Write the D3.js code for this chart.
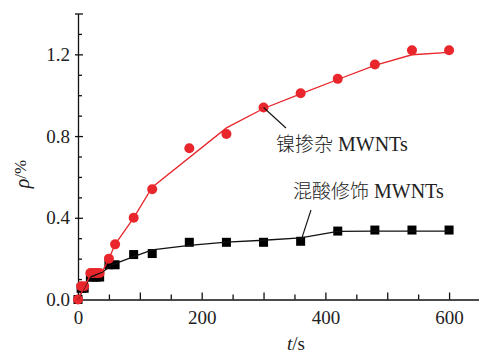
<!DOCTYPE html>
<html>
<head>
<meta charset="utf-8">
<script src="https://cdn.jsdelivr.net/npm/d3@7"></script>
<style>
  body { margin: 0; background: #fff; }
  svg { display: block; }
  text { font-family: "Liberation Serif", "Times New Roman", serif; fill: #222; }
</style>
</head>
<body>
<svg id="chart" width="479" height="354"></svg>
<script>
// nickel doped MWNTs (red circles)
const niT = [0, 5, 10, 20, 25, 30, 35, 50, 60, 90, 120, 180, 240, 300, 360, 420, 480, 540, 600]
const niRho = [0, 0.065, 0.065, 0.13, 0.13, 0.13, 0.13, 0.2, 0.27, 0.4, 0.54, 0.74, 0.81, 0.94, 1.01, 1.08, 1.15, 1.22, 1.22]
// fitted curve for the red series
const niFitT = [0, 20, 40, 50, 60, 90, 120, 240, 300, 360, 420, 480, 540, 600]
const niFitRho = [0, 0.12, 0.14, 0.2, 0.27, 0.4, 0.55, 0.84, 0.935, 1.007, 1.077, 1.146, 1.198, 1.21]

// mixed acid modified MWNTs (black squares)
const acidT = [0, 5, 10, 20, 25, 30, 35, 50, 60, 90, 120, 180, 240, 300, 360, 420, 480, 540, 600]
const acidRho = [0, 0.055, 0.055, 0.11, 0.11, 0.11, 0.11, 0.17, 0.17, 0.22, 0.225, 0.28, 0.28, 0.28, 0.285, 0.335, 0.34, 0.34, 0.34]
const acidFitT = [0, 20, 40, 55, 90, 120, 180, 240, 300, 360, 420, 480, 600]
const acidFitRho = [0, 0.11, 0.135, 0.17, 0.21, 0.243, 0.265, 0.281, 0.29, 0.302, 0.333, 0.335, 0.335]

const xMajor = [0, 100, 200, 300, 400, 500, 600]
const xMinor = [50, 150, 250, 350, 450, 550]
const xLabels = [0, 200, 400, 600]
const yTicks = [0, 0.1, 0.2, 0.3, 0.4, 0.5, 0.6, 0.7, 0.8, 0.9, 1.0, 1.1, 1.2, 1.3, 1.4]
const yLabels = [0, 0.4, 0.8, 1.2]

const red = "#e8262c"
const svg = d3.select("#chart")

const x = d3.scaleLinear().domain([0, 650]).range([78, 480])
const y = d3.scaleLinear().domain([0, 1.4]).range([299.5, 13.5])

// x axis: major + minor ticks pointing up
const gx = svg.append("g").attr("transform", "translate(0," + y(0) + ")")
gx.call(d3.axisBottom(x).tickValues(xMajor).tickSize(-7).tickSizeOuter(0).tickPadding(11)
  .tickFormat(d => xLabels.includes(d) ? d : ""))
gx.append("g").call(d3.axisBottom(x).tickValues(xMinor).tickSize(-5).tickSizeOuter(0).tickFormat(""))
  .select(".domain").remove()

// y axis
const gy = svg.append("g").attr("transform", "translate(" + x(0) + ",0)")
gy.call(d3.axisLeft(y).tickValues(yTicks).tickSize(-4).tickSizeOuter(0).tickPadding(8)
  .tickFormat(d => yLabels.some(v => Math.abs(v - d) < 1e-9) ? d3.format(".1f")(d) : ""))
// labelled ticks and the top cap cross the axis line
gy.selectAll(".tick").filter(d => yLabels.some(v => Math.abs(v - d) < 1e-9) || d === 1.4)
  .select("line").attr("x1", -3).attr("x2", 5)

svg.selectAll(".domain, .tick line").attr("stroke", "#111").attr("stroke-width", 1.3)
svg.selectAll(".tick text").style("font-size", "19px").attr("fill", "#222")
  .style("font-family", "'Liberation Serif', serif")

// lines
const line = d3.line().x(d => x(d[0])).y(d => y(d[1]))

svg.append("g").selectAll("rect").data(d3.zip(acidT, acidRho)).join("rect")
  .attr("x", d => x(d[0]) - 4.5).attr("y", d => y(d[1]) - 4.5)
  .attr("width", 9).attr("height", 9).attr("fill", "#000")

svg.append("g").selectAll("circle").data(d3.zip(niT, niRho)).join("circle")
  .attr("cx", d => x(d[0])).attr("cy", d => y(d[1])).attr("r", 5).attr("fill", red)

svg.append("path").datum(d3.zip(acidFitT, acidFitRho))
  .attr("d", line).attr("fill", "none").attr("stroke", "#111").attr("stroke-width", 1.3)

svg.append("path").datum(d3.zip(niFitT, niFitRho))
  .attr("d", line).attr("fill", "none").attr("stroke", red).attr("stroke-width", 1.3)

// annotations with leader lines
svg.append("line").attr("x1", x(300)).attr("y1", y(0.94)).attr("x2", 286).attr("y2", 128)
  .attr("stroke", "#111").attr("stroke-width", 1.1)
svg.append("line").attr("x1", 311).attr("y1", 210).attr("x2", x(360) + 0.5).attr("y2", y(0.29))
  .attr("stroke", "#111").attr("stroke-width", 1.1)

function label(tx, ty, cjk) {
  const t = svg.append("text").attr("x", tx).attr("y", ty).style("font-size", "20px")
  t.append("tspan").style("font-family", "'Noto Sans CJK SC', sans-serif").style("font-size", "19px")
    .style("font-weight", 300).text(cjk)
  t.append("tspan").text(" MWNTs")
}
label(276, 151, "镍掺杂")
label(293, 198, "混酸修饰")

// axis titles
const xt = svg.append("text").attr("x", 296).attr("y", 350).attr("text-anchor", "middle").style("font-size", "19px")
xt.append("tspan").style("font-style", "italic").text("t")
xt.append("tspan").text("/s")

const yt = svg.append("text").attr("transform", "translate(29,174) rotate(-90)")
  .attr("text-anchor", "middle").style("font-size", "19px")
yt.append("tspan").style("font-style", "italic").style("font-size", "20px").text("ρ")
yt.append("tspan").attr("dy", -3).style("font-size", "17px").text("/%")
</script>
</body>
</html>
